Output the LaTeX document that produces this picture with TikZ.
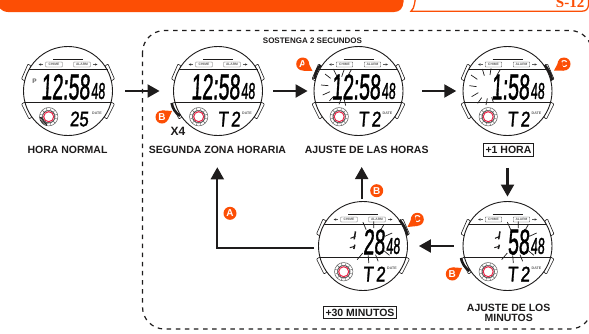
\documentclass[tikz,border=0pt]{standalone}
\usepackage{fontspec}
\usetikzlibrary{arrows.meta}
\setmainfont{Liberation Sans}
\newfontfamily\lcd[FakeSlant=0.1,FakeBold=1.6]{Liberation Sans}
\newfontfamily\serifb{Liberation Serif}
\definecolor{org}{RGB}{252,78,5}
\definecolor{ink}{RGB}{30,28,28}
\definecolor{lcdgray}{RGB}{95,95,95}
\definecolor{dialred}{RGB}{235,35,70}
\tikzset{
  arr/.style={draw=ink,line width=2.1pt,-{Triangle[length=12pt,width=13pt]}},
  lbl/.style={font=\fontsize{10.5}{10}\selectfont\bfseries,text=ink,inner sep=0pt,align=center},
  boxlbl/.style={lbl,draw=ink,line width=.9pt,inner xsep=2pt,inner ysep=2.5pt},
  badge/.style={circle,fill=org,text=white,inner sep=0pt,minimum size=13pt,font=\fontsize{10}{10}\selectfont\bfseries},
  wcase/.style={circle,draw=ink,fill=white,line width=.9pt,minimum size=89pt,inner sep=0pt},
  lug/.style={draw=ink,fill=white,line width=.6pt,rounded corners=.8pt},
  modebox/.style={draw=lcdgray,line width=.4pt,rounded corners=.5pt,inner sep=0pt,minimum width=16.5pt,minimum height=5pt,text=lcdgray,font=\fontsize{3.3}{3}\selectfont\bfseries},
  ray/.style={draw=ink,line width=.7pt},
  press/.style={draw=ink,line width=2.6pt},
  flash/.style={x=.3333pt,y=-.3333pt}
}
\newcommand{\lcdtxt}[3]{\fontsize{#1}{#1}\lcd\scalebox{#2}[1]{#3}}
% name, cx, cy, main, date
\newcommand{\watch}[5]{%
  \begin{scope}[shift={(#2,#3)}]
    \path[lug] (-46.5,-12)--(-40,-27)--(-37,-25)--(-43,-10)--cycle;
    \path[lug] (46.5,-12)--(40,-27)--(37,-25)--(43,-10)--cycle;
    \path[lug] (-46.5,13)--(-39,28)--(-36,26)--(-43,11)--cycle;
    \path[lug] (46.5,13)--(39,28)--(36,26)--(43,11)--cycle;
    \node[wcase] (#1) at (0,0) {};
    \draw[ink,line width=.8pt] (-39.5,-21.5)--(39.5,-21.5);
    \draw[ink,line width=.8pt] (-43.3,11.5)--(43.3,11.5);
    \foreach \s in {-1,1}{
      \draw[ink,line width=1.8pt] (\s*39,-21.5)--(\s*30,-21.5);
      \draw[ink,line width=1.8pt] (\s*43,11.5)--(\s*35,11.5);
      \fill[lcdgray!60!black] (\s*29.5,-26.5)--(\s*27,-25.4)--(\s*27,-27.6)--cycle;
      \draw[lcdgray,line width=.4pt] (\s*27,-26.5)--(\s*24.8,-26.5);
    }
    \draw[ink,line width=.7pt] (-15,-32)--(15,-32);
    \node[modebox] (#1ch) at (-14,-26.5) {CHIME};
    \node[modebox] (#1al) at (14,-26.5) {ALARM};
    \node[inner sep=0pt,anchor=east] (#1main) at (22,-4) {\lcdtxt{36}{.54}{#4}};
    \node[inner sep=0pt] (#1sec) at (30,0) {\lcdtxt{23}{.54}{48}};
    \node[inner sep=0pt] (#1date) at (11,28) {\lcdtxt{21}{.8}{#5}};
    \node[inner sep=0pt,text=lcdgray,font=\fontsize{3.6}{3}\selectfont\bfseries] (#1dl) at (29,22) {DATE};
    \begin{scope}[shift={(-19.3,25.7)}]
      \draw[lcdgray,line width=.5pt] (0,0) circle[radius=9.2];
      \draw[lcdgray,line width=.4pt] (0,0) circle[radius=6.5];
      \foreach \a in {15,45,...,345}
        \draw[lcdgray,line width=.4pt] ({6.5*cos(\a)},{6.5*sin(\a)})--({9.2*cos(\a)},{9.2*sin(\a)});
      \draw[ink,line width=.4pt] (0,0) circle[radius=6];
      \draw[dialred,line width=1pt] (0,0) circle[radius=5];
    \end{scope}
  \end{scope}}
\newcommand{\flashmid}{%
  \draw[ray] (172,72)--(182,95) (205,70)--(205,90) (235,80)--(225,97) (260,105)--(238,115)
    (252,172)--(235,158) (218,190)--(210,170) (190,195)--(188,172) (155,185)--(172,165);
  \draw[ink,line width=1.5pt] (150,100)--(146,124) (148,140)--(145,153);
  \draw[ink,line width=1pt] (135,121)--(150,115) (133,149)--(148,145);}
\begin{document}
\begin{tikzpicture}[x=1pt,y=-1pt]
\clip (0,0) rectangle (589,333);
\fill[white] (0,0) rectangle (589,333);
% header
\fill[org] (-2,-2)--(403.5,-2)--(403.5,2) .. controls (403,8) and (400,12) .. (394,12)--(8,12) .. controls (4,12) and (1,10) .. (-2,6)--cycle;
\draw[org,line width=1.3pt] (415.5,-2)--(414.5,4) .. controls (414,7) and (413,9.5) .. (411,11.2)--(582,11.2) .. controls (586,11.2) and (588,9) .. (588.5,5)--(588.5,-2);
\node[anchor=base east,inner sep=0pt,text=org,font=\fontsize{15}{15}\serifb\bfseries] (pg) at (584.5,7.5) {S-12};
% dashed frame
\draw[ink,line width=1.2pt,dash pattern=on 4.5pt off 4.6pt,rounded corners=22pt] (142.5,30.5) rectangle (592,329);
\node[lbl,font=\fontsize{8}{8}\selectfont\bfseries] (hold) at (312.5,41) {SOSTENGA 2 SECUNDOS};
% watches
\watch{wa}{68}{91}{12:58}{25}
\watch{wb}{218}{91}{12:58}{T\,2}
\watch{wc}{358.5}{91}{12:58}{T\,2}
\watch{wd}{507.5}{91}{1:58}{T\,2}
\watch{we}{507.5}{246}{58}{T\,2}
\watch{wf}{363}{246}{28}{T\,2}
\node[inner sep=0pt,text=lcdgray,font=\fontsize{6.5}{6}\selectfont\bfseries] (pm) at (34.5,81) {P};
% dark sector of first dial
\foreach \a in {105,115,...,175}
  \draw[ink,line width=.8pt] ({48.7+6.3*cos(\a)},{116.7+6.3*sin(\a)})--({48.7+9.2*cos(\a)},{116.7+9.2*sin(\a)});
% pressed buttons
\draw[press] (171.7,103) .. controls (172.5,108) and (175,112.5) .. (180,116);
\draw[press] (314.5,79) .. controls (315,74) and (317,69) .. (320.5,65);
\draw[press] (544.5,65) .. controls (548,69) and (551,74) .. (552,80);
\draw[press] (399.5,220) .. controls (403,224) and (406,229) .. (407.5,235);
\draw[press] (461,258) .. controls (462,263) and (464.5,267.5) .. (469.5,271);
% flash rays
\begin{scope}[shift={(300,45)},flash]
  \draw[ray] (75,87)--(92,100) (63,120)--(85,122) (68,150)--(90,140) (88,168)--(100,155)
    (117,178)--(124,160) (137,182)--(133,165) (100,72)--(110,92) (133,72)--(125,95) (155,72)--(145,90);
\end{scope}
\begin{scope}[shift={(450,45)},flash]
  \draw[ray] (63,90)--(82,103) (58,122)--(80,125) (65,155)--(85,143) (83,175)--(95,158)
    (108,180)--(112,160) (130,172)--(125,157) (97,72)--(103,92) (123,70)--(120,90) (150,75)--(140,92);
\end{scope}
\begin{scope}[shift={(450,198)},flash]\flashmid\end{scope}
\begin{scope}[shift={(305.5,198)},flash]\flashmid\end{scope}
% labels
\node[lbl] (t1) at (67.5,150) {HORA NORMAL};
\node[lbl] (t2) at (217.5,150) {SEGUNDA ZONA HORARIA};
\node[lbl] (t3) at (366.7,150) {AJUSTE DE LAS HORAS};
\node[boxlbl] (t4) at (508.5,150) {+1 HORA};
\node[lbl] (t5) at (508.7,313) {AJUSTE DE LOS\\[-.5pt]MINUTOS};
\node[boxlbl] (t6) at (360,312.5) {+30 MINUTOS};
\node[lbl,font=\fontsize{12}{12}\selectfont\bfseries] (x4) at (178,131) {X4};
% arrows
\draw[arr,shorten <=12.5pt,shorten >=13.5pt] (wa)--(wb);
\draw[arr,shorten <=10.5pt,shorten >=6pt] (wb)--(wc);
\draw[arr,shorten <=18.7pt,shorten >=6.3pt] (wc)--(wd);
\draw[arr,shorten <=32pt,shorten >=4.5pt] (wd)--(we);
\draw[arr,shorten <=9pt,shorten >=11pt] (we)--(wf);
\coordinate (ua) at (361.7,199);
\coordinate (ub) at (361.7,167);
\draw[arr] (ua)--(ub);
\coordinate (va) at (314,247.7);
\coordinate (vb) at (217.3,247.7);
\coordinate (vc) at (217.3,167.3);
\draw[arr,line join=miter] (va)--(vb)--(vc);
% badges
\node[badge] (ba) at (302.7,64) {A};
\fill[org] (ba.60)--(312.5,71)--(ba.270)--cycle;
\node[badge] (bb) at (162,117) {B};
\fill[org] (bb.90)--(172,111)--(bb.-30)--cycle;
\node[badge] (bc) at (564,64) {C};
\fill[org] (bc.120)--(554,70.5)--(bc.270)--cycle;
\node[badge] (bd) at (417.3,219.3) {C};
\fill[org] (bd.120)--(407.5,227)--(bd.270)--cycle;
\node[badge] (be) at (452.3,274) {B};
\fill[org] (be.90)--(462,268)--(be.-30)--cycle;
\node[badge] (bf) at (376.7,190.7) {B};
\node[badge] (bg) at (230,213.3) {A};
\end{tikzpicture}
\end{document}
